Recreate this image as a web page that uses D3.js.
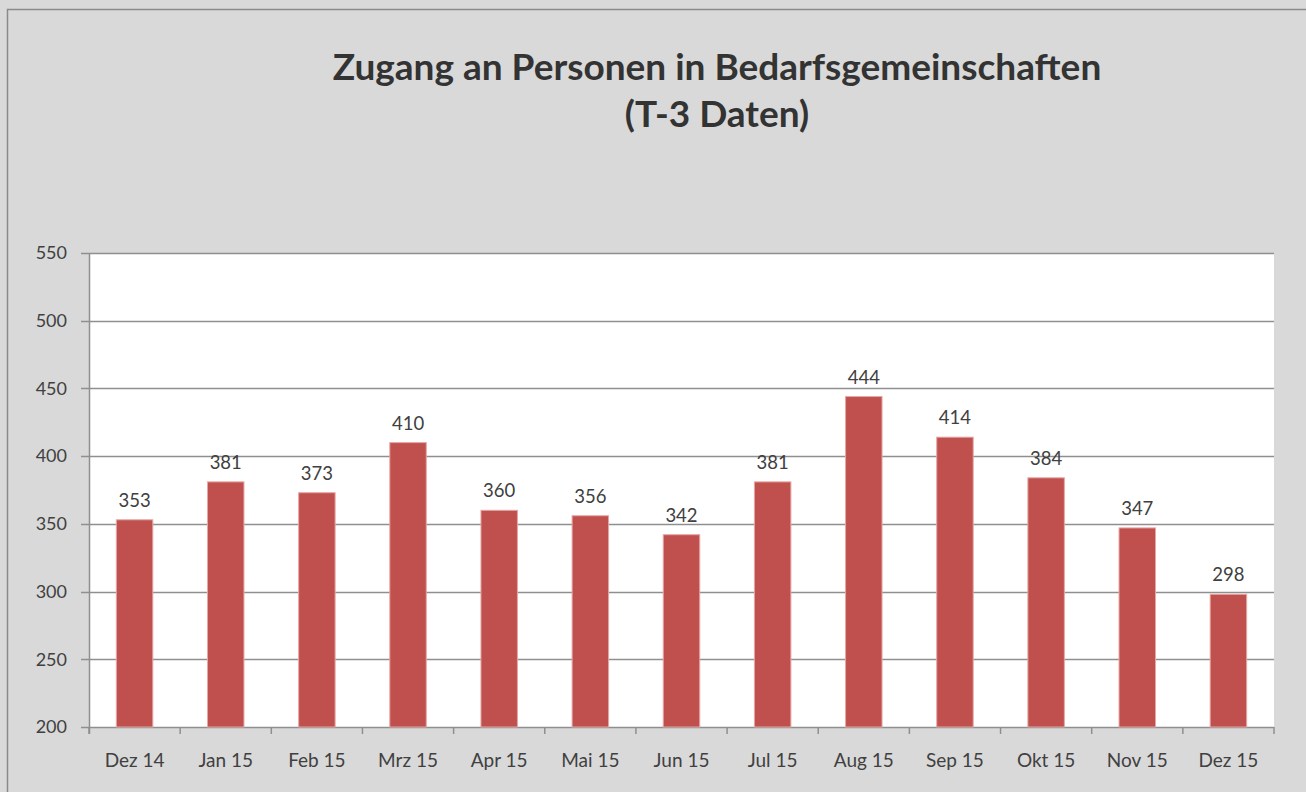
<!DOCTYPE html>
<html>
<head>
<meta charset="utf-8">
<script src="https://cdn.jsdelivr.net/npm/d3@7"></script>
<style>
  body { margin: 0; background: #d9d9d9; }
  svg { display: block; font-family: Lato, "Open Sans", sans-serif; }
</style>
</head>
<body>
<svg id="chart" width="1306" height="792"></svg>
<script>
let months = ["Dez 14", "Jan 15", "Feb 15", "Mrz 15", "Apr 15", "Mai 15", "Jun 15", "Jul 15", "Aug 15", "Sep 15", "Okt 15", "Nov 15", "Dez 15"]
let values = [353, 381, 373, 410, 360, 356, 342, 381, 444, 414, 384, 347, 298]
let yTicks = [200, 250, 300, 350, 400, 450, 500, 550]
let titleLines = ["Zugang an Personen in Bedarfsgemeinschaften", "(T-3 Daten)"]

let svg = d3.select("#chart")
let plotLeft = 89, plotRight = 1274, plotTop = 253, plotBottom = 727

svg.append("rect")
  .attr("x", 7.5).attr("y", 9.5).attr("width", 1400).attr("height", 900)
  .attr("fill", "#d9d9d9").attr("stroke", "#8a8a8a").attr("stroke-width", 1.5)

let x = d3.scaleBand().domain(months).range([plotLeft, plotRight]).paddingInner(0.6).paddingOuter(0.3)
let y = d3.scaleLinear().domain([200, 550]).range([plotBottom, plotTop])

svg.append("rect")
  .attr("x", plotLeft).attr("y", plotTop).attr("width", plotRight - plotLeft).attr("height", plotBottom - plotTop)
  .attr("fill", "#fff")

// gridlines
svg.append("g").selectAll("line")
  .data(yTicks).enter()
  .append("line")
  .attr("x1", plotLeft - 8).attr("x2", plotRight)
  .attr("y1", d => Math.round(y(d)) + 0.5).attr("y2", d => Math.round(y(d)) + 0.5)
  .attr("stroke", "#8f8f8f").attr("stroke-width", 1.5)

svg.append("g").selectAll("text")
  .data(yTicks).enter()
  .append("text")
  .attr("x", plotLeft - 22).attr("y", d => y(d))
  .attr("dy", "0.35em")
  .attr("text-anchor", "end")
  .attr("font-size", 18).attr("fill", "#404040")
  .text(d => d)

// bars
svg.append("g").selectAll("rect")
  .data(values).enter()
  .append("rect")
  .attr("x", (d, i) => x(months[i]))
  .attr("width", x.bandwidth())
  .attr("y", d => y(d))
  .attr("height", d => y(200) - y(d))
  .attr("fill", "#c0504d")
  .attr("stroke", "#e6a6a4").attr("stroke-width", 1)

svg.append("g").selectAll("text")
  .data(values).enter()
  .append("text")
  .attr("x", (d, i) => x(months[i]) + x.bandwidth() / 2)
  .attr("y", d => y(d) - 13)
  .attr("text-anchor", "middle")
  .attr("font-size", 18.5).attr("fill", "#404040")
  .text(d => d)

// axes
let step = (plotRight - plotLeft) / months.length
svg.append("line")
  .attr("x1", plotLeft + 0.5).attr("x2", plotLeft + 0.5).attr("y1", plotTop).attr("y2", plotBottom + 7)
  .attr("stroke", "#8f8f8f").attr("stroke-width", 1.5)
svg.append("g").selectAll("line")
  .data(d3.range(months.length + 1)).enter()
  .append("line")
  .attr("x1", d => plotLeft + d * step).attr("x2", d => plotLeft + d * step)
  .attr("y1", plotBottom).attr("y2", plotBottom + 7)
  .attr("stroke", "#8f8f8f").attr("stroke-width", 1.5)

svg.append("g").selectAll("text")
  .data(months).enter()
  .append("text")
  .attr("x", d => x(d) + x.bandwidth() / 2)
  .attr("y", 767)
  .attr("text-anchor", "middle")
  .attr("font-size", 19).attr("fill", "#404040")
  .text(d => d)

// title
svg.append("g").selectAll("text")
  .data(titleLines).enter()
  .append("text")
  .attr("x", 717).attr("y", (d, i) => 80 + i * 47)
  .attr("text-anchor", "middle")
  .attr("font-size", 37).attr("font-weight", "bold").attr("fill", "#333")
  .text(d => d)
</script>
</body>
</html>
